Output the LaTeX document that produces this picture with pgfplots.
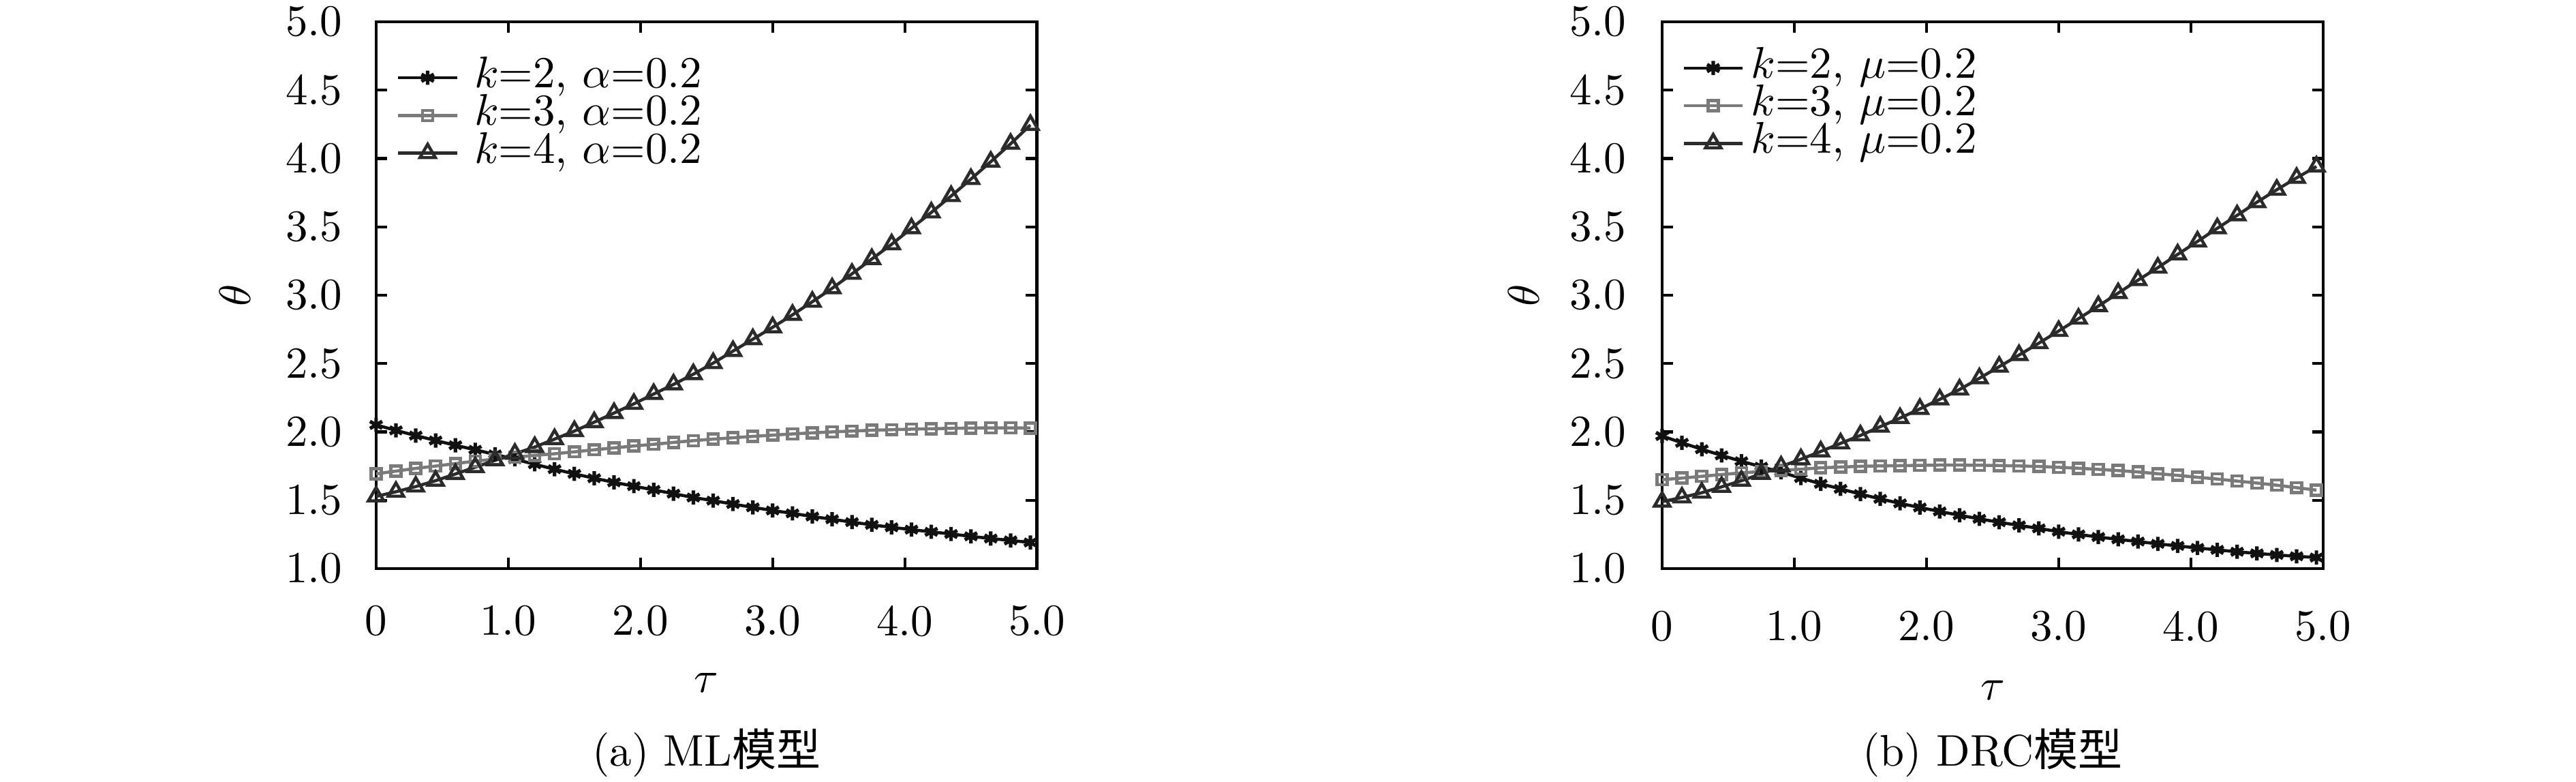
\documentclass[border=0pt]{standalone}
\usepackage{pgfplots}
\usepackage{pgfplotstable}
\usepackage{fontspec}
\newfontfamily\cjk{Noto Sans CJK SC}
\pgfplotsset{compat=1.18}
\definecolor{cTwo}{HTML}{111111}
\definecolor{cThree}{HTML}{7A7A7A}
\definecolor{cFour}{HTML}{2B2B2B}

\pgfplotstableread{
t k2 k3 k4
0.00 2.051 1.693 1.528
0.15 2.011 1.713 1.562
0.30 1.973 1.733 1.600
0.45 1.937 1.750 1.643
0.60 1.902 1.768 1.692
0.75 1.869 1.786 1.742
0.90 1.835 1.801 1.792
1.05 1.800 1.815 1.840
1.20 1.763 1.828 1.889
1.35 1.727 1.840 1.947
1.50 1.693 1.854 2.006
1.65 1.661 1.869 2.071
1.80 1.631 1.883 2.138
1.95 1.603 1.897 2.205
2.10 1.576 1.909 2.277
2.25 1.548 1.923 2.347
2.40 1.520 1.936 2.422
2.55 1.497 1.947 2.503
2.70 1.472 1.957 2.591
2.85 1.448 1.967 2.678
3.00 1.425 1.976 2.765
3.15 1.404 1.985 2.856
3.30 1.381 1.993 2.952
3.45 1.361 2.000 3.050
3.60 1.340 2.006 3.156
3.75 1.320 2.012 3.264
3.90 1.302 2.016 3.372
4.05 1.285 2.020 3.489
4.20 1.269 2.023 3.605
4.35 1.253 2.026 3.725
4.50 1.236 2.028 3.849
4.65 1.220 2.029 3.976
4.80 1.206 2.029 4.107
4.95 1.191 2.028 4.245
}\tabML

\pgfplotstableread{
t k2 k3 k4
0.00 1.970 1.650 1.490
0.15 1.920 1.662 1.520
0.30 1.873 1.675 1.555
0.45 1.828 1.688 1.598
0.60 1.785 1.700 1.643
0.75 1.745 1.710 1.693
0.90 1.705 1.719 1.747
1.05 1.662 1.727 1.800
1.20 1.620 1.737 1.857
1.35 1.583 1.743 1.916
1.50 1.545 1.748 1.974
1.65 1.510 1.751 2.038
1.80 1.477 1.753 2.101
1.95 1.447 1.755 2.168
2.10 1.418 1.757 2.238
2.25 1.390 1.757 2.310
2.40 1.364 1.756 2.392
2.55 1.339 1.754 2.477
2.70 1.316 1.751 2.562
2.85 1.294 1.747 2.649
3.00 1.270 1.741 2.738
3.15 1.250 1.734 2.828
3.30 1.231 1.726 2.920
3.45 1.214 1.717 3.015
3.60 1.198 1.707 3.110
3.75 1.181 1.694 3.201
3.90 1.166 1.682 3.298
4.05 1.151 1.668 3.393
4.20 1.137 1.655 3.489
4.35 1.123 1.640 3.584
4.50 1.111 1.626 3.680
4.65 1.100 1.610 3.771
4.80 1.090 1.592 3.858
4.95 1.081 1.574 3.941
}\tabDRC

\pgfplotsset{
  myaxis/.style={
    scale only axis, width=149.2pt, height=123.4pt,
    xmin=0, xmax=5, ymin=1, ymax=5,
    xtick={0,1,2,3,4,5},
    ytick={1,1.5,2,2.5,3,3.5,4,4.5,5},
    yticklabel={\pgfmathprintnumber[fixed,fixed zerofill,precision=1]{\tick}},
    axis line style={line width=0.7pt, black},
    every tick/.style={line width=0.65pt, black},
    major tick length=2.5pt,
    tick align=inside,
    clip=false,
    every axis x label/.style={at={(axis description cs:0.5,0)}, anchor=center},
    every axis y label/.style={at={(axis description cs:0,0.5)}, anchor=center, rotate=90},
    legend cell align=left,
    legend image code/.code={\draw[mark repeat=2,mark phase=2] plot coordinates {(0cm,0cm) (0.235cm,0cm) (0.47cm,0cm)};},
    legend style={draw=none, fill=none, inner sep=0pt, outer sep=0pt,
      at={(rel axis cs:0,1)}, anchor=north west, row sep=0pt,
      nodes={inner sep=0.5pt, text height=6pt, text depth=1.5pt}},
  },
  sTwo/.style={color=cTwo, line width=0.7pt, mark=asterisk, mark size=1.6pt, mark options={line width=0.8pt, solid}},
  sThree/.style={color=cThree, line width=0.7pt, mark=square, mark size=1.15pt, mark options={line width=0.7pt, solid}},
  sFour/.style={color=cFour, line width=0.7pt, mark=triangle, mark size=2.0pt, mark options={line width=0.7pt, solid}},
}

\begin{document}
\begin{tikzpicture}
\useasboundingbox (0pt,0pt) rectangle (581.5pt,176.3pt);

\begin{axis}[myaxis, at={(84.9pt,48pt)}, anchor=south west,
  xticklabels={0,1.0,2.0,3.0,4.0,5.0},
  xticklabel style={yshift=-4.8pt},
  yticklabel style={xshift=-4.1pt},
  xlabel={$\tau$}, xlabel style={yshift=-25.7pt},
  ylabel={$\theta$}, ylabel style={yshift=31.8pt},
  legend style={xshift=4.6pt, yshift=-8.4pt, column sep=3pt},
]
\addplot[sTwo] table[x=t, y=k2] {\tabML};
\addlegendentry{$k$=2, $\alpha$=0.2}
\addplot[sThree] table[x=t, y=k3] {\tabML};
\addlegendentry{$k$=3, $\alpha$=0.2}
\addplot[sFour] table[x=t, y=k4] {\tabML};
\addlegendentry{$k$=4, $\alpha$=0.2}
\node[anchor=base, yshift=-44.6pt] at (rel axis cs:0.5,0) {(a) ML{\cjk 模型}};
\end{axis}

\begin{axis}[myaxis, at={(375.2pt,48pt)}, anchor=south west,
  xticklabels={\raisebox{1.3pt}{0},1.0,2.0,3.0,4.0,5.0},
  xticklabel style={yshift=-6.1pt},
  yticklabel style={xshift=-4.6pt},
  xlabel={$\tau$}, xlabel style={yshift=-27.4pt},
  ylabel={$\theta$}, ylabel style={yshift=31.3pt},
  legend style={xshift=4.5pt, yshift=-6.2pt, column sep=1pt},
]
\addplot[sTwo] table[x=t, y=k2] {\tabDRC};
\addlegendentry{$k$=2, $\mu$=0.2}
\addplot[sThree] table[x=t, y=k3] {\tabDRC};
\addlegendentry{$k$=3, $\mu$=0.2}
\addplot[sFour] table[x=t, y=k4] {\tabDRC};
\addlegendentry{$k$=4, $\mu$=0.2}
\node[anchor=base, yshift=-44.6pt] at (rel axis cs:0.5,0) {(b) DRC{\cjk 模型}};
\end{axis}
\end{tikzpicture}
\end{document}
